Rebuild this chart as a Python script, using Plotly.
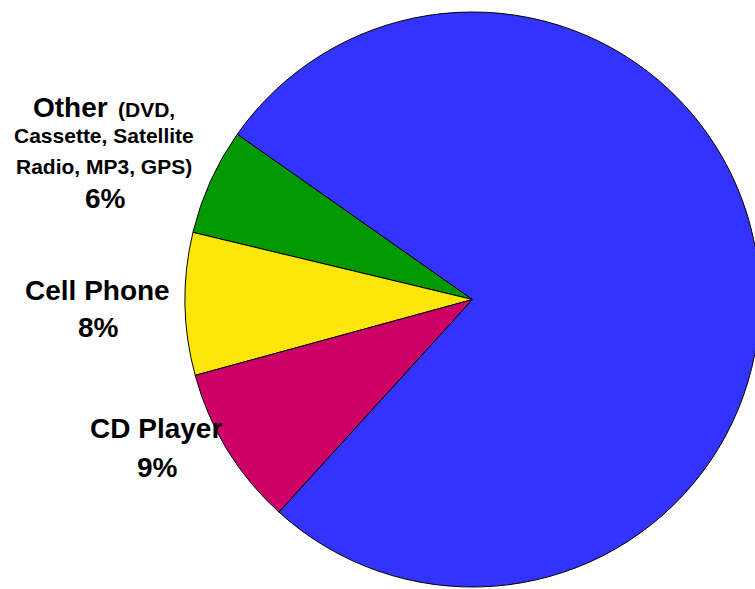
import plotly.graph_objects as go

# Share of in-car audio sources, listed counterclockwise from the upper-left edge
categories = ["Other", "Cell Phone", "CD Player", "Radio"]
shares = [6, 8, 9, 77]
other_detail = ["(DVD,", "Cassette, Satellite", "Radio, MP3, GPS)"]
slice_colors = ["#009900", "#FFE60A", "#CC0066", "#3333FF"]

# The pie runs a few pixels past the right edge of the visible page
W, H = 760, 589
FONT = "Arial, 'Liberation Sans', sans-serif"
BIG, SMALL = 28, 21

CX, CY, R = 472.5, 299.5, 287.5

fig = go.Figure(
    go.Pie(
        labels=categories,
        values=shares,
        sort=False,
        direction="counterclockwise",
        rotation=-76.5,
        marker=dict(colors=slice_colors, line=dict(color="black", width=1)),
        textinfo="none",
        hoverinfo="label+percent",
        domain=dict(x=[(CX - R) / W, 1.0],
                    y=[(H - CY - R) / H, (H - CY + R) / H]),
    )
)


def label(text, x, y, size, anchor="center"):
    """Bold annotation placed in pixel coordinates (origin top-left)."""
    fig.add_annotation(
        text=f"<b>{text}</b>",
        x=x / W, y=1 - y / H, xref="paper", yref="paper",
        xanchor=anchor, yanchor="middle", showarrow=False,
        font=dict(family=FONT, size=size, color="black"),
    )


pct = {c: f"{v}%" for c, v in zip(categories, shares)}

# "Other" block: name with its breakdown, then the share
label(categories[0], 110, 107, BIG, anchor="right")
label(other_detail[0], 116, 109.5, SMALL, anchor="left")
label(other_detail[1], 104, 136, SMALL)
label(other_detail[2], 104, 166, SMALL)
label(pct["Other"], 105, 198.5, BIG)

label(categories[1], 97.5, 290.5, BIG)
label(pct["Cell Phone"], 99, 327.5, BIG)

label(categories[2], 155.5, 428.5, BIG)
label(pct["CD Player"], 157, 467.5, BIG)

fig.update_layout(
    width=W, height=H,
    margin=dict(l=0, r=0, t=0, b=0),
    paper_bgcolor="white",
    plot_bgcolor="white",
    showlegend=False,
)

fig.write_html("out.html")
